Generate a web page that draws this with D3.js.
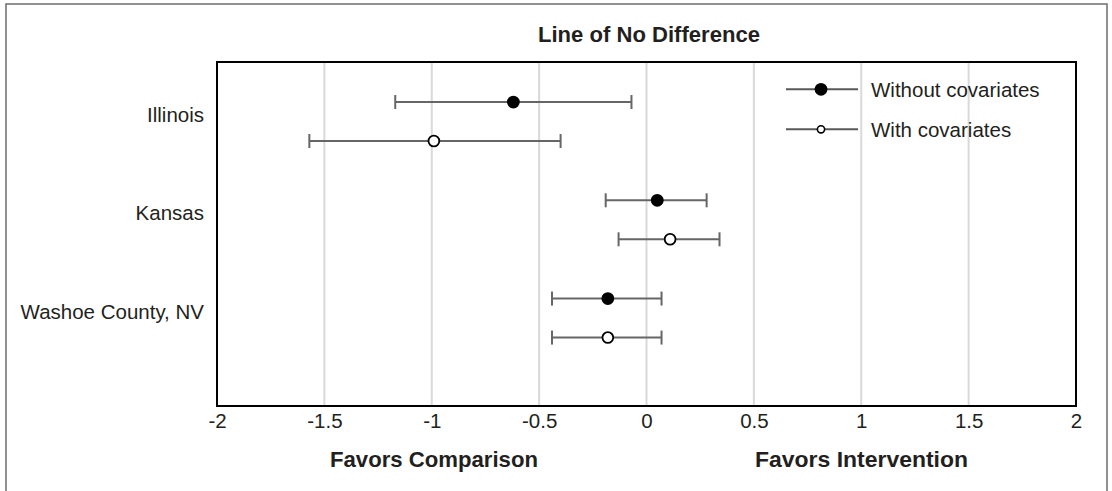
<!DOCTYPE html>
<html>
<head>
<meta charset="utf-8">
<script src="https://cdn.jsdelivr.net/npm/d3@7"></script>
<style>
  html, body { margin: 0; padding: 0; background: #fff; }
  svg { display: block; }
  text { fill: #231f20; }
</style>
</head>
<body>
<svg id="chart" width="1112" height="491"></svg>
<script>
// ---- data ----
const categories = ["Illinois", "Kansas", "Washoe County, NV"];
const seriesNames = ["Without covariates", "With covariates"];
const estWithout   = [-0.62, 0.05, -0.18];
const lowerWithout = [-1.17, -0.19, -0.44];
const upperWithout = [-0.07, 0.28, 0.07];
const estWith      = [-0.99, 0.11, -0.18];
const lowerWith    = [-1.57, -0.13, -0.44];
const upperWith    = [-0.40, 0.34, 0.07];
const xTickValues  = [-2, -1.5, -1, -0.5, 0, 0.5, 1, 1.5, 2];
const xTickLabels  = ["-2", "-1.5", "-1", "-0.5", "0", "0.5", "1", "1.5", "2"];
const titleText = "Line of No Difference";
const leftLabel = "Favors Comparison";
const rightLabel = "Favors Intervention";

// ---- build rows ----
const rows = [];
categories.forEach((c, i) => {
  rows.push({cat: c, series: seriesNames[0], est: estWithout[i], lo: lowerWithout[i], hi: upperWithout[i]});
  rows.push({cat: c, series: seriesNames[1], est: estWith[i], lo: lowerWith[i], hi: upperWith[i]});
});

const svg = d3.select("#chart");
const plot = {left: 217, right: 1076, top: 62, bottom: 406};
const FONT = "'Liberation Sans', Arial, sans-serif";
const BOLD = "'Liberation Sans Narrow', 'Liberation Sans', Arial, sans-serif";

const x = d3.scaleLinear().domain([-2, 2]).range([plot.left, plot.right]);
const y = d3.scaleBand().domain(categories).range([72.4, 367.2]).padding(0);
const yOff = d3.scalePoint().domain(seriesNames).range([-19.5, 19.5]);
const yPos = d => y(d.cat) + y.bandwidth() / 2 + yOff(d.series);

// outer frame
svg.append("rect")
  .attr("x", 6).attr("y", 4).attr("width", 1101).attr("height", 520)
  .attr("fill", "none").attr("stroke", "#6d6d6d").attr("stroke-width", 1.5);

// gridlines
svg.append("g").selectAll("line")
  .data(xTickValues.filter(v => v > -2 && v < 2))
  .join("line")
  .attr("x1", d => x(d)).attr("x2", d => x(d))
  .attr("y1", plot.top).attr("y2", plot.bottom)
  .attr("stroke", "#d9d9d9").attr("stroke-width", 2);

// plot border
svg.append("rect")
  .attr("x", plot.left).attr("y", plot.top)
  .attr("width", plot.right - plot.left).attr("height", plot.bottom - plot.top)
  .attr("fill", "none").attr("stroke", "#000").attr("stroke-width", 2);

// x axis labels via d3 axis
const xAxis = d3.axisBottom(x)
  .tickValues(xTickValues)
  .tickFormat((d, i) => xTickLabels[i])
  .tickSizeInner(0).tickSizeOuter(0).tickPadding(0);
const gx = svg.append("g").attr("transform", `translate(0,${plot.bottom})`).call(xAxis);
gx.select(".domain").remove();
gx.selectAll("text")
  .attr("dy", null).attr("y", 22)
  .style("font-family", FONT).style("font-size", "20.5px").style("fill", "#231f20");

// category labels
svg.append("g").selectAll("text")
  .data(categories)
  .join("text")
  .attr("x", 204)
  .attr("y", d => y(d) + y.bandwidth() / 2 + 0.5)
  .attr("text-anchor", "end")
  .style("font-family", FONT).style("font-size", "20.5px")
  .text(d => d);

// error bars
const eb = svg.append("g").selectAll("g").data(rows).join("g");
eb.append("line")
  .attr("x1", d => x(d.lo)).attr("x2", d => x(d.hi))
  .attr("y1", yPos).attr("y2", yPos)
  .attr("stroke", "#666").attr("stroke-width", 2);
eb.append("line")
  .attr("x1", d => x(d.lo)).attr("x2", d => x(d.lo))
  .attr("y1", d => yPos(d) - 7).attr("y2", d => yPos(d) + 7)
  .attr("stroke", "#666").attr("stroke-width", 2);
eb.append("line")
  .attr("x1", d => x(d.hi)).attr("x2", d => x(d.hi))
  .attr("y1", d => yPos(d) - 7).attr("y2", d => yPos(d) + 7)
  .attr("stroke", "#666").attr("stroke-width", 2);

// markers
eb.append("circle")
  .attr("cx", d => x(d.est)).attr("cy", yPos)
  .attr("r", d => d.series === seriesNames[0] ? 6.4 : 5.4)
  .attr("fill", d => d.series === seriesNames[0] ? "#000" : "#fff")
  .attr("stroke", "#000")
  .attr("stroke-width", d => d.series === seriesNames[0] ? 0 : 1.8);

// legend
const legend = svg.append("g").selectAll("g").data(seriesNames).join("g")
  .attr("transform", (d, i) => `translate(0,${89.3 + i * 40})`);
legend.append("line")
  .attr("x1", 786).attr("x2", 858).attr("y1", 0).attr("y2", 0)
  .attr("stroke", "#595959").attr("stroke-width", 2);
legend.append("circle")
  .attr("cx", 821).attr("cy", 0)
  .attr("r", (d, i) => i === 0 ? 6.4 : 3.6)
  .attr("fill", (d, i) => i === 0 ? "#000" : "#fff")
  .attr("stroke", "#000")
  .attr("stroke-width", (d, i) => i === 0 ? 0 : 1.6);
legend.append("text")
  .attr("x", 871).attr("y", 7.5)
  .style("font-family", FONT).style("font-size", "20.5px")
  .text(d => d);

// title and axis titles
function boldText(t, cx, baseline, width) {
  svg.append("text")
    .attr("x", cx).attr("y", baseline)
    .attr("text-anchor", "middle")
    .attr("textLength", width).attr("lengthAdjust", "spacingAndGlyphs")
    .style("font-family", BOLD).style("font-size", "22px").style("font-weight", "bold")
    .text(t);
}
boldText(titleText, 649, 41.5, 222);
boldText(leftLabel, 434, 467, 208);
boldText(rightLabel, 861.5, 467, 213);
</script>
</body>
</html>
